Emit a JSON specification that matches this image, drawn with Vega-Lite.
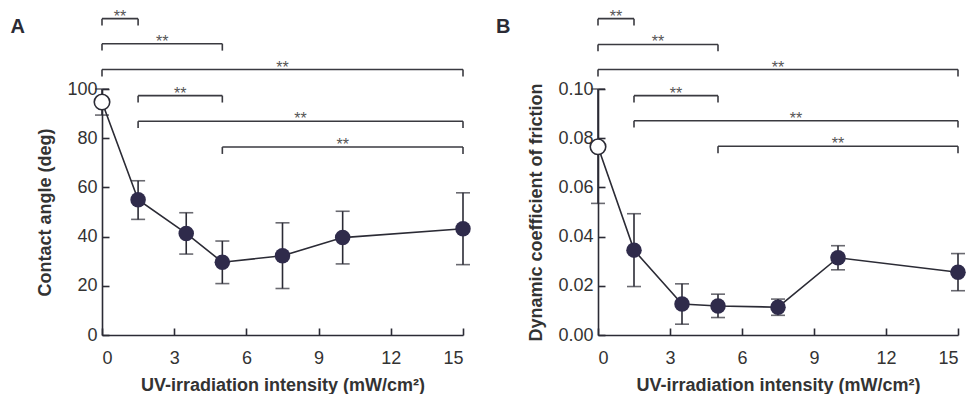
{
  "$schema": "https://vega.github.io/schema/vega-lite/v6.json",
  "padding": {"left": 10, "top": 8, "right": 5, "bottom": 2},
  "spacing": 25,
  "config": {
    "view": {"stroke": null},
    "font": "Liberation Sans",
    "axis": {
      "domainColor": "#2b2b35", "domainWidth": 1.6, "tickColor": "#2b2b35", "tickWidth": 1.6,
      "tickSize": -7, "labelFontSize": 18, "labelColor": "#333", "labelPadding": 12,
      "titleFontSize": 18, "titleFontWeight": "bold", "titleColor": "#333", "grid": false, "labelFont": "Liberation Sans", "titleFont": "Liberation Sans"
    },
    "axisX": {"labelPadding": 21, "titlePadding": 9}
  },
  "datasets": {
    "ca": [
      {"x": 0, "y": 94.7, "lo": 89.4, "hi": 100},
      {"x": 1.5, "y": 55, "lo": 47, "hi": 62.7},
      {"x": 3.5, "y": 41.3, "lo": 32.9, "hi": 49.7},
      {"x": 5, "y": 29.6, "lo": 20.9, "hi": 38.2},
      {"x": 7.5, "y": 32.2, "lo": 18.9, "hi": 45.6},
      {"x": 10, "y": 39.6, "lo": 28.9, "hi": 50.3},
      {"x": 15, "y": 43.2, "lo": 28.6, "hi": 57.8}
    ],
    "cof": [
      {"x": 0, "y": 0.0765, "lo": 0.0535, "hi": 0.1},
      {"x": 1.5, "y": 0.0345, "lo": 0.0197, "hi": 0.0493},
      {"x": 3.5, "y": 0.0126, "lo": 0.0044, "hi": 0.0208},
      {"x": 5, "y": 0.0118, "lo": 0.0071, "hi": 0.0166},
      {"x": 7.5, "y": 0.0113, "lo": 0.008, "hi": 0.0146},
      {"x": 10, "y": 0.0314, "lo": 0.0265, "hi": 0.0363},
      {"x": 15, "y": 0.0255, "lo": 0.018, "hi": 0.0331}
    ],
    "sigA": [
      {"x1": 0, "x2": 1.5, "xm": 0.75, "y": 128.6, "yl": 125.8, "lab": "**"},
      {"x1": 0, "x2": 5, "xm": 2.5, "y": 118.4, "yl": 115.6, "lab": "**"},
      {"x1": 0, "x2": 15, "xm": 7.5, "y": 107.9, "yl": 105.1, "lab": "**"},
      {"x1": 1.5, "x2": 5, "xm": 3.25, "y": 97.3, "yl": 94.5, "lab": "**"},
      {"x1": 1.5, "x2": 15, "xm": 8.25, "y": 86.9, "yl": 84.1, "lab": "**"},
      {"x1": 5, "x2": 15, "xm": 10, "y": 76.4, "yl": 73.6, "lab": "**"}
    ],
    "sigB": [
      {"x1": 0, "x2": 1.5, "xm": 0.75, "y": 0.1286, "yl": 0.1258, "lab": "**"},
      {"x1": 0, "x2": 5, "xm": 2.5, "y": 0.1181, "yl": 0.1153, "lab": "**"},
      {"x1": 0, "x2": 15, "xm": 7.5, "y": 0.1079, "yl": 0.1051, "lab": "**"},
      {"x1": 1.5, "x2": 5, "xm": 3.25, "y": 0.0973, "yl": 0.0945, "lab": "**"},
      {"x1": 1.5, "x2": 15, "xm": 8.25, "y": 0.0871, "yl": 0.0843, "lab": "**"},
      {"x1": 5, "x2": 15, "xm": 10, "y": 0.0767, "yl": 0.0739, "lab": "**"}
    ],
    "panA": [{"x": -3.8, "y": 125.3, "lab": "A"}],
    "panB": [{"x": -4.25, "y": 0.1253, "lab": "B"}]
  },
  "hconcat": [
    {
      "width": 361, "height": 246,
      "encoding": {
        "x": {"type": "quantitative", "scale": {"domain": [0, 15], "nice": false}, "axis": {"values": [0, 3, 6, 9, 12, 15], "title": "UV-irradiation intensity (mW/cm²)"}}
      },
      "layer": [
        {"data": {"name": "sigA"}, "mark": {"type": "rule", "color": "#3a3a40", "strokeWidth": 1.6},
         "encoding": {"x": {"field": "x1"}, "x2": {"field": "x2"}, "y": {"field": "y", "type": "quantitative", "title": "Contact angle (deg)", "scale": {"domain": [0, 100], "nice": false}, "axis": {"values": [0, 20, 40, 60, 80, 100], "titlePadding": 12}}}},
        {"data": {"name": "sigA"}, "mark": {"type": "rule", "color": "#3a3a40", "strokeWidth": 1.6},
         "encoding": {"x": {"field": "x1"}, "y": {"field": "y", "type": "quantitative", "title": "Contact angle (deg)"}, "y2": {"field": "yl"}}},
        {"data": {"name": "sigA"}, "mark": {"type": "rule", "color": "#3a3a40", "strokeWidth": 1.6},
         "encoding": {"x": {"field": "x2"}, "y": {"field": "y", "type": "quantitative", "title": "Contact angle (deg)"}, "y2": {"field": "yl"}}},
        {"data": {"name": "sigA"}, "mark": {"type": "text", "color": "#555", "fontSize": 16, "baseline": "alphabetic", "dy": 3},
         "encoding": {"x": {"field": "xm"}, "y": {"field": "y", "type": "quantitative", "title": "Contact angle (deg)"}, "text": {"field": "lab"}}},
        {"data": {"name": "panA"}, "mark": {"type": "text", "color": "#2b2b35", "fontSize": 20, "fontWeight": "bold", "align": "left", "baseline": "middle"},
         "encoding": {"x": {"field": "x"}, "y": {"field": "y", "type": "quantitative", "title": "Contact angle (deg)"}, "text": {"field": "lab"}}},
        {"data": {"name": "ca"}, "mark": {"type": "errorbar", "color": "#2b2b35", "thickness": 1.6, "ticks": {"size": 14, "thickness": 1.6}},
         "encoding": {"x": {"field": "x"}, "y": {"field": "lo", "type": "quantitative", "title": "Contact angle (deg)"}, "y2": {"field": "hi"}}},
        {"data": {"name": "ca"}, "mark": {"type": "line", "color": "#2b2b35", "strokeWidth": 1.6},
         "encoding": {"x": {"field": "x"}, "y": {"field": "y", "type": "quantitative", "title": "Contact angle (deg)"}}},
        {"data": {"name": "ca"}, "transform": [{"filter": "datum.x > 0"}], "mark": {"type": "point", "filled": true, "size": 240, "opacity": 1, "color": "#2f2b4b"},
         "encoding": {"x": {"field": "x"}, "y": {"field": "y", "type": "quantitative", "title": "Contact angle (deg)"}}},
        {"data": {"name": "ca"}, "transform": [{"filter": "datum.x == 0"}], "mark": {"type": "point", "filled": false, "size": 240, "fill": "white", "fillOpacity": 1, "stroke": "#2b2b35", "strokeWidth": 1.6, "opacity": 1},
         "encoding": {"x": {"field": "x"}, "y": {"field": "y", "type": "quantitative", "title": "Contact angle (deg)"}}}
      ]
    },
    {
      "width": 360, "height": 246,
      "encoding": {
        "x": {"type": "quantitative", "scale": {"domain": [0, 15], "nice": false}, "axis": {"values": [0, 3, 6, 9, 12, 15], "title": "UV-irradiation intensity (mW/cm²)"}}
      },
      "layer": [
        {"data": {"name": "sigB"}, "mark": {"type": "rule", "color": "#3a3a40", "strokeWidth": 1.6},
         "encoding": {"x": {"field": "x1"}, "x2": {"field": "x2"}, "y": {"field": "y", "type": "quantitative", "title": "Dynamic coefficient of friction", "scale": {"domain": [0, 0.1], "nice": false}, "axis": {"values": [0, 0.02, 0.04, 0.06, 0.08, 0.1], "format": ".2f", "titlePadding": 12}}}},
        {"data": {"name": "sigB"}, "mark": {"type": "rule", "color": "#3a3a40", "strokeWidth": 1.6},
         "encoding": {"x": {"field": "x1"}, "y": {"field": "y", "type": "quantitative", "title": "Dynamic coefficient of friction"}, "y2": {"field": "yl"}}},
        {"data": {"name": "sigB"}, "mark": {"type": "rule", "color": "#3a3a40", "strokeWidth": 1.6},
         "encoding": {"x": {"field": "x2"}, "y": {"field": "y", "type": "quantitative", "title": "Dynamic coefficient of friction"}, "y2": {"field": "yl"}}},
        {"data": {"name": "sigB"}, "mark": {"type": "text", "color": "#555", "fontSize": 16, "baseline": "alphabetic", "dy": 3},
         "encoding": {"x": {"field": "xm"}, "y": {"field": "y", "type": "quantitative", "title": "Dynamic coefficient of friction"}, "text": {"field": "lab"}}},
        {"data": {"name": "panB"}, "mark": {"type": "text", "color": "#2b2b35", "fontSize": 20, "fontWeight": "bold", "align": "left", "baseline": "middle"},
         "encoding": {"x": {"field": "x"}, "y": {"field": "y", "type": "quantitative", "title": "Dynamic coefficient of friction"}, "text": {"field": "lab"}}},
        {"data": {"name": "cof"}, "mark": {"type": "errorbar", "color": "#2b2b35", "thickness": 1.6, "ticks": {"size": 14, "thickness": 1.6}},
         "encoding": {"x": {"field": "x"}, "y": {"field": "lo", "type": "quantitative", "title": "Dynamic coefficient of friction"}, "y2": {"field": "hi"}}},
        {"data": {"name": "cof"}, "mark": {"type": "line", "color": "#2b2b35", "strokeWidth": 1.6},
         "encoding": {"x": {"field": "x"}, "y": {"field": "y", "type": "quantitative", "title": "Dynamic coefficient of friction"}}},
        {"data": {"name": "cof"}, "transform": [{"filter": "datum.x > 0"}], "mark": {"type": "point", "filled": true, "size": 240, "opacity": 1, "color": "#2f2b4b"},
         "encoding": {"x": {"field": "x"}, "y": {"field": "y", "type": "quantitative", "title": "Dynamic coefficient of friction"}}},
        {"data": {"name": "cof"}, "transform": [{"filter": "datum.x == 0"}], "mark": {"type": "point", "filled": false, "size": 240, "fill": "white", "fillOpacity": 1, "stroke": "#2b2b35", "strokeWidth": 1.6, "opacity": 1},
         "encoding": {"x": {"field": "x"}, "y": {"field": "y", "type": "quantitative", "title": "Dynamic coefficient of friction"}}}
      ]
    }
  ]
}
